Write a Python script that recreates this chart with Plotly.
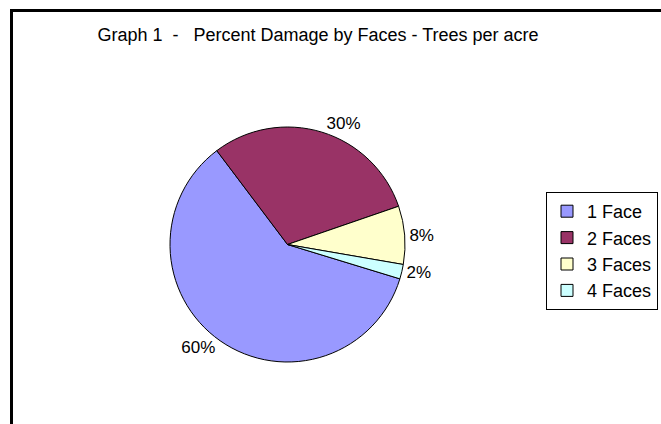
import plotly.graph_objects as go

labels = ["1 Face", "2 Faces", "3 Faces", "4 Faces"]
values = [60, 30, 8, 2]
colors = ["#9999FF", "#993366", "#FFFFCC", "#CCFFFF"]
title_text = "Graph 1&nbsp;&nbsp;-&nbsp;&nbsp;&nbsp;Percent Damage by Faces - Trees per acre"

W, H = 661, 424
FONT = "Arial, Liberation Sans, sans-serif"

fig = go.Figure(go.Pie(
    labels=labels,
    values=values,
    sort=False,
    direction="clockwise",
    rotation=107,
    marker=dict(colors=colors, line=dict(color="black", width=1)),
    textposition="outside",
    texttemplate="%{percent:.0%}",
    textfont=dict(family=FONT, size=17, color="black"),
    domain=dict(x=[170 / W, 405 / W], y=[62 / H, 297 / H]),
    hoverinfo="label+percent",
))

fig.update_layout(
    width=W, height=H,
    margin=dict(l=0, r=0, t=0, b=0, autoexpand=False),
    paper_bgcolor="white",
    font=dict(family=FONT, color="black", size=17),
    title=dict(text=title_text, x=318 / W, xanchor="center",
               y=1 - 34.5 / H, yanchor="middle",
               font=dict(family=FONT, size=18, color="black")),
    legend=dict(x=546 / W, y=1 - 192 / H, xanchor="left", yanchor="top",
                bordercolor="black", borderwidth=1, bgcolor="white",
                font=dict(family=FONT, size=18, color="black")),
    shapes=[
        dict(type="line", xref="paper", yref="paper",
             x0=11.5 / W, x1=11.5 / W, y0=-0.05, y1=1 - 10.5 / H,
             line=dict(color="black", width=3)),
        dict(type="line", xref="paper", yref="paper",
             x0=10 / W, x1=1.05, y0=1 - 10.5 / H, y1=1 - 10.5 / H,
             line=dict(color="black", width=3)),
    ],
)

fig.write_html(
    "out.html",
    config={"displayModeBar": False},
    post_script="document.body.style.margin='0px';document.body.style.padding='0px';",
)
